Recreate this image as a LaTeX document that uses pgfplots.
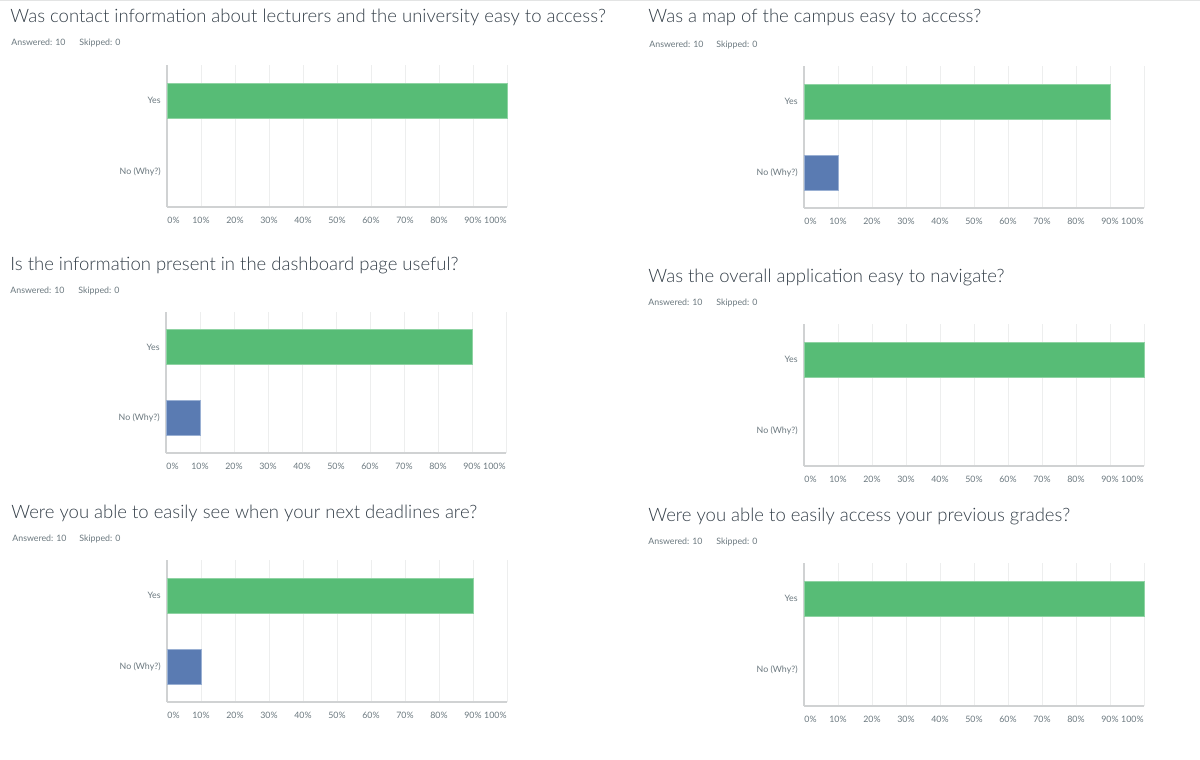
\documentclass[border=0pt]{standalone}
\usepackage{pgfplots}
\pgfplotsset{compat=1.18}
\usepackage{fontspec}
\setmainfont{Lato}
\newfontfamily\titlefont{Lato Light}
\definecolor{smgreen}{HTML}{57BC76}
\definecolor{smgreenedge}{HTML}{8FD3A3}
\definecolor{smblue}{HTML}{5A7BB2}
\definecolor{smblueedge}{HTML}{9AB0D3}
\definecolor{smtitle}{HTML}{333E48}
\definecolor{smgrey}{HTML}{6B787F}
\definecolor{smgrid}{HTML}{EDEEEE}
\definecolor{smaxis}{HTML}{D0D2D3}
\newcommand\smallfont{\fontsize{4.4}{5}\selectfont}
\newcommand\bigfont{\titlefont\fontsize{9.25}{10}\selectfont}
\pgfplotsset{
  smpanel/.style={
    scale only axis, width=170pt, height=71pt,
    anchor=north west,
    xmin=0, xmax=100, ymin=-0.5, ymax=1.5,
    axis x line=bottom, axis y line=left,
    axis line style={smaxis, line width=0.6pt, -},
    xtick={0,10,20,30,40,50,60,70,80,90,100},
    xticklabels={,10\%,20\%,30\%,40\%,50\%,60\%,70\%,80\%,90\%,},
    ytick={0,1}, yticklabels={No (Why?),Yes},
    major tick length=0pt,
    xmajorgrids, major grid style={smgrid, line width=0.5pt},
    tick label style={font=\smallfont, text=smgrey, inner sep=0pt},
    xticklabel style={anchor=base, yshift=-8pt},
    yticklabel style={anchor=east, xshift=-3pt},
    xbar, bar width=17.5pt, bar shift=0pt,
    clip=false,
  },
  yesbar/.style={fill=smgreen, draw=smgreenedge, line width=0.4pt},
  nobar/.style={fill=smblue, draw=smblueedge, line width=0.4pt},
  nonebar/.style={draw=none, fill=none},
}
\newcommand\edgelabels{%
  \node[anchor=base west, inner sep=0pt, yshift=-8pt, font=\smallfont, text=smgrey] at (rel axis cs:0,0) {0\%};
  \node[anchor=base east, inner sep=0pt, yshift=-8pt, font=\smallfont, text=smgrey] at (rel axis cs:1,0) {100\%};
}
\begin{document}
\begin{tikzpicture}
\useasboundingbox (0,0) rectangle (600pt,-380pt);
\fill[white] (0,0) rectangle (600pt,-380pt);
\begin{scope}[x=0.5pt,y=-0.5pt]
\draw[smaxis!60, line width=0.5pt] (0,0.5) -- (1200,0.5);
\tikzset{ttl/.style={anchor=base west, inner sep=0pt, font=\bigfont, text=smtitle},
         sub/.style={anchor=base west, inner sep=0pt, font=\smallfont, text=smgrey}}
% panel 1
\node[ttl] at (10,23) {Was contact information about lecturers and the university easy to access?};
\node[sub] at (11,45) {Answered: 10};
\node[sub] at (79,45) {Skipped: 0};
% panel 2
\node[ttl] at (648,23) {Was a map of the campus easy to access?};
\node[sub] at (649,47) {Answered: 10};
\node[sub] at (716,47) {Skipped: 0};
% panel 3
\node[ttl] at (10,270) {Is the information present in the dashboard page useful?};
\node[sub] at (10,293) {Answered: 10};
\node[sub] at (78,293) {Skipped: 0};
% panel 4
\node[ttl] at (648,282) {Was the overall application easy to navigate?};
\node[sub] at (648,305) {Answered: 10};
\node[sub] at (716,305) {Skipped: 0};
% panel 5
\node[ttl] at (11,518) {Were you able to easily see when your next deadlines are?};
\node[sub] at (12,541) {Answered: 10};
\node[sub] at (79,541) {Skipped: 0};
% panel 6
\node[ttl] at (648,521) {Were you able to easily access your previous grades?};
\node[sub] at (648,544) {Answered: 10};
\node[sub] at (716,544) {Skipped: 0};
\end{scope}

\begin{axis}[smpanel, at={(83.5pt,-32.5pt)}]
\addplot[yesbar] coordinates {(100,1)};
\addplot[nonebar] coordinates {(0,0)};
\edgelabels
\end{axis}

\begin{axis}[smpanel, at={(402pt,-33pt)}]
\addplot[yesbar] coordinates {(90,1)};
\addplot[nobar] coordinates {(10,0)};
\edgelabels
\end{axis}

\begin{axis}[smpanel, at={(83pt,-156pt)}, height=70.5pt]
\addplot[yesbar] coordinates {(90,1)};
\addplot[nobar] coordinates {(10,0)};
\edgelabels
\end{axis}

\begin{axis}[smpanel, at={(402pt,-162pt)}]
\addplot[yesbar] coordinates {(100,1)};
\addplot[nonebar] coordinates {(0,0)};
\edgelabels
\end{axis}

\begin{axis}[smpanel, at={(83.5pt,-280pt)}]
\addplot[yesbar] coordinates {(90,1)};
\addplot[nobar] coordinates {(10,0)};
\edgelabels
\end{axis}

\begin{axis}[smpanel, at={(402pt,-281.5pt)}, height=71.5pt]
\addplot[yesbar] coordinates {(100,1)};
\addplot[nonebar] coordinates {(0,0)};
\edgelabels
\end{axis}
\end{tikzpicture}
\end{document}
